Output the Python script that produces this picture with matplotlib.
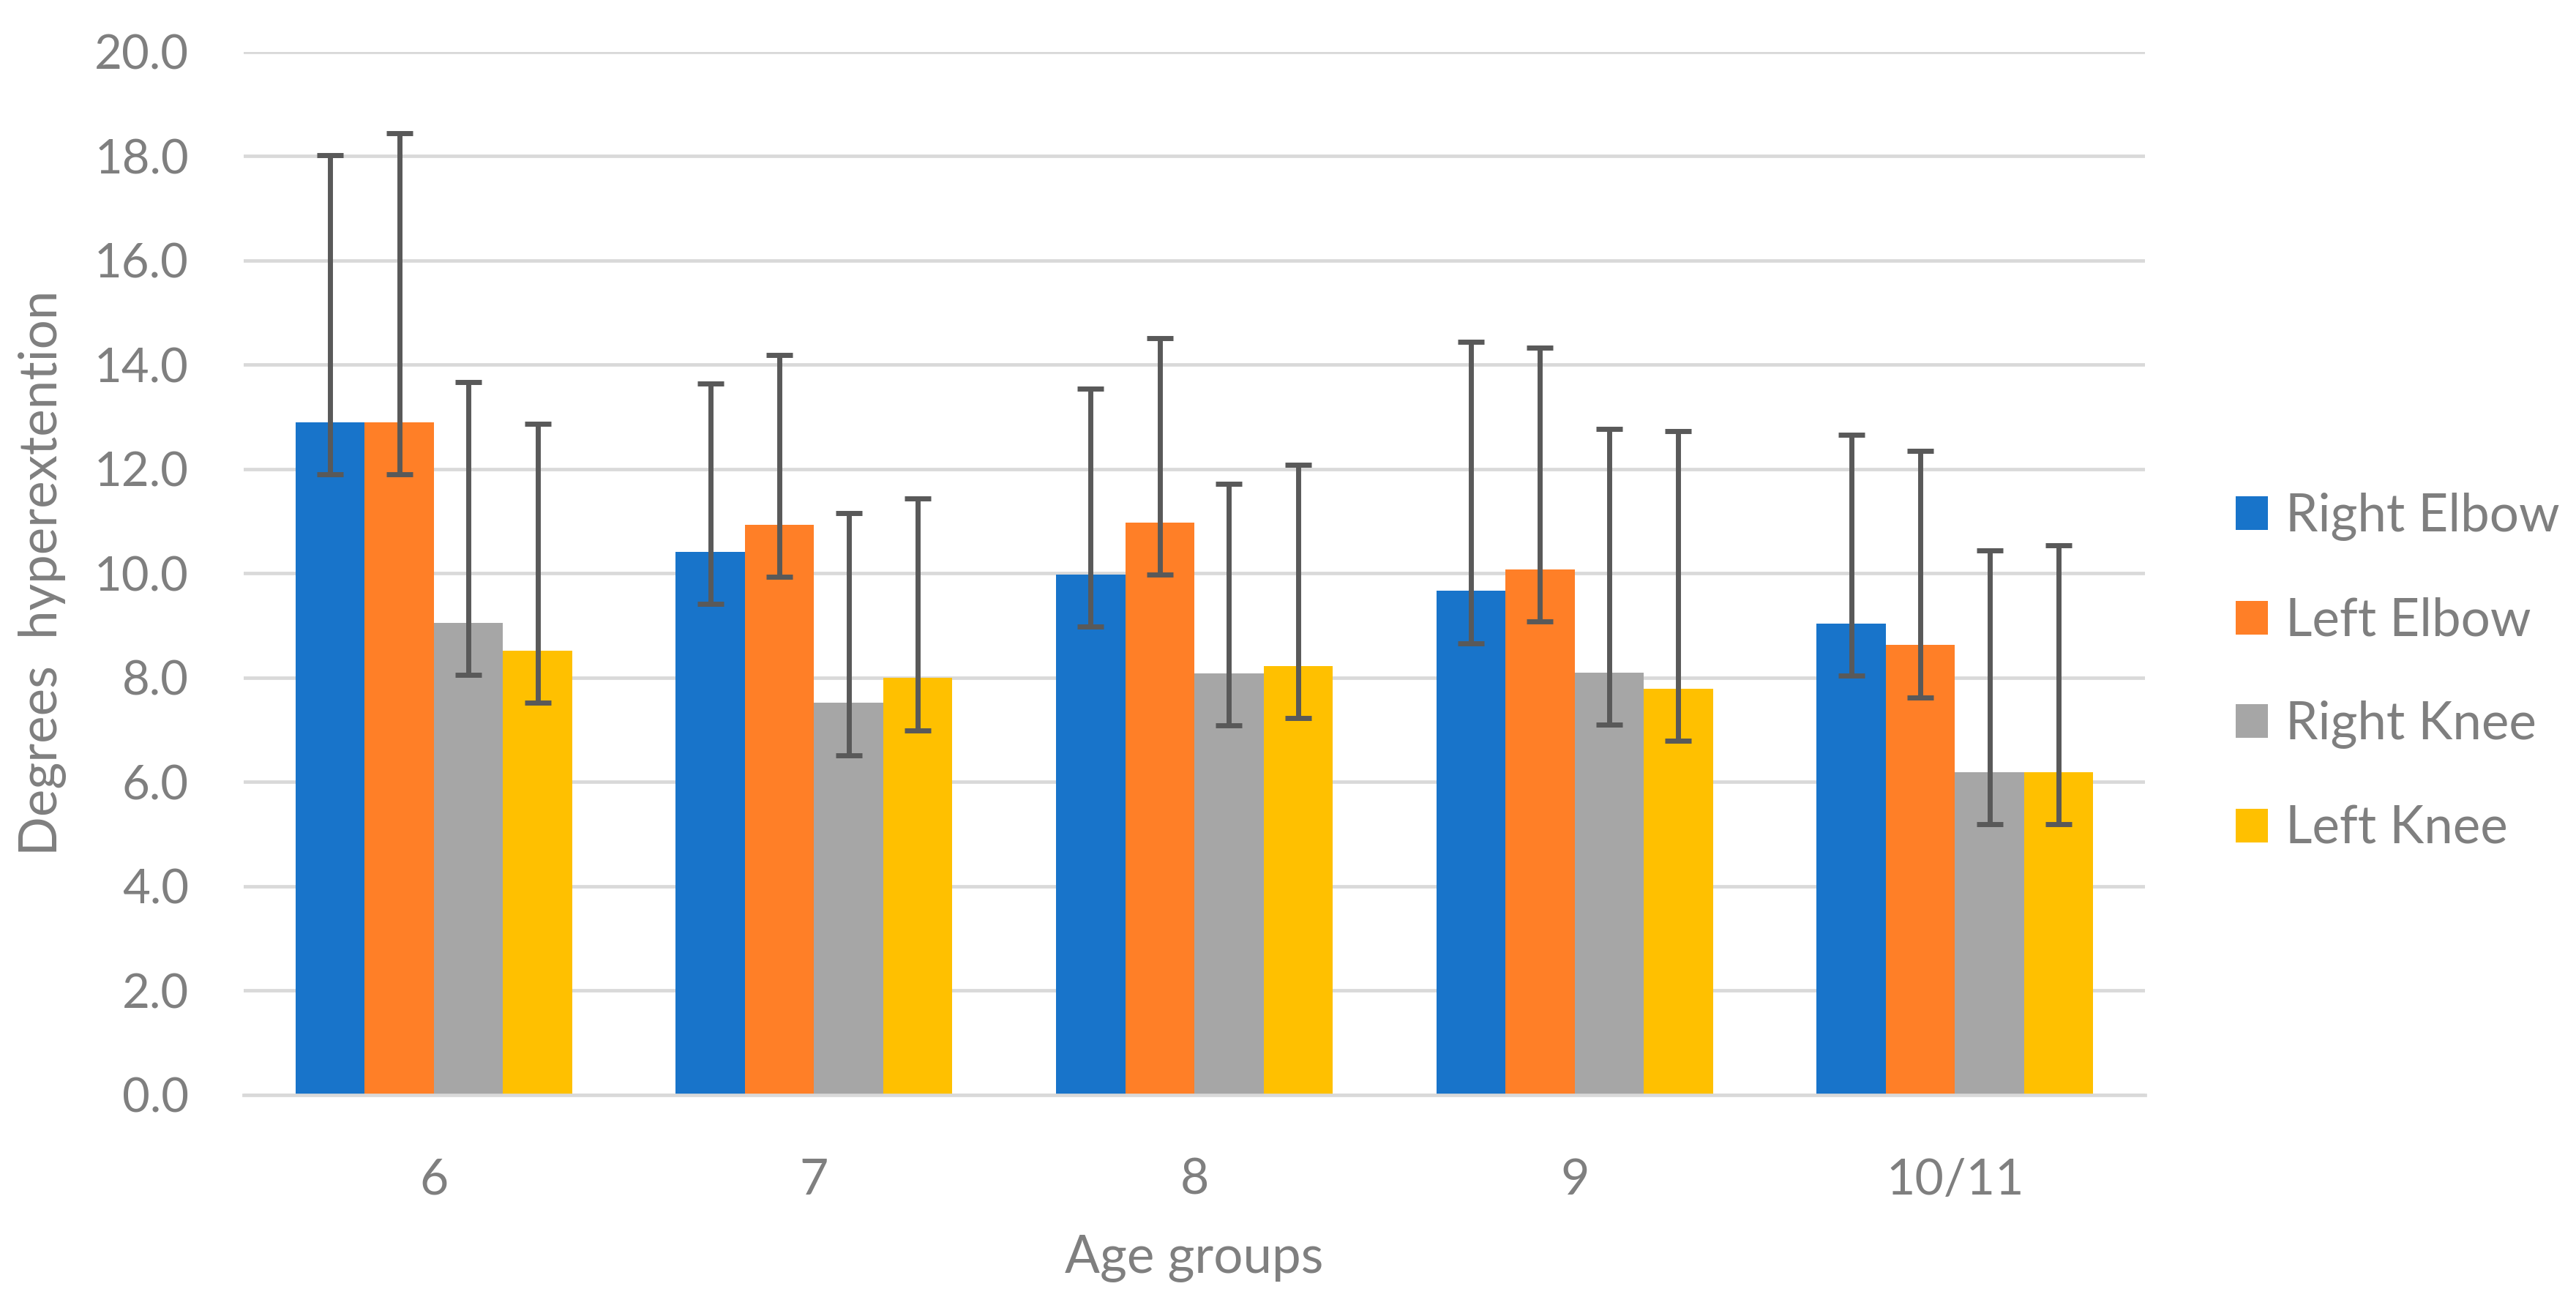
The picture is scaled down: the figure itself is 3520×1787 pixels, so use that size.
import matplotlib.pyplot as plt
import numpy as np
from matplotlib.patches import Patch

# valeurs
age_groups = ['6', '7', '8', '9', '10/11']
series = ['Right Elbow', 'Left Elbow', 'Right Knee', 'Left Knee']

right_elbow = [12.89, 10.41, 9.97, 9.66, 9.03]
left_elbow = [12.89, 10.93, 10.97, 10.07, 8.62]
right_knee = [9.05, 7.51, 8.08, 8.09, 6.19]
left_knee = [8.51, 7.99, 8.22, 7.78, 6.19]

err_up_right_elbow = [5.13, 3.23, 3.57, 4.78, 3.63]
err_up_left_elbow = [5.55, 3.26, 3.53, 4.26, 3.72]
err_up_right_knee = [4.61, 3.64, 3.63, 4.67, 4.25]
err_up_left_knee = [4.35, 3.44, 3.86, 4.94, 4.35]
err_down = [1.0, 1.0, 1.0, 1.0, 1.0]

colors = ['#1874CA', '#FF7F27', '#A6A6A6', '#FFC000']
text_color = '#7F7F7F'
grid_color = '#D9D9D9'

plt.rcParams['font.family'] = ['Lato', 'DejaVu Sans']

fig = plt.figure(figsize=(35.2, 17.87), dpi=100)
ax = fig.add_axes([0.0946, 0.1631, 0.7381, 0.7974])

values = [right_elbow, left_elbow, right_knee, left_knee]
errs = [err_up_right_elbow, err_up_left_elbow, err_up_right_knee, err_up_left_knee]

X = np.arange(len(age_groups))
w = 0.1819
for k in range(4):
    pos = X + (k - 1.5) * w
    ax.bar(pos, values[k], width=w, color=colors[k], zorder=2)
    ax.errorbar(pos, values[k], yerr=[err_down, errs[k]], fmt='none',
                ecolor='#595959', elinewidth=5, capsize=13, capthick=5, zorder=3)

ax.set_xlim(-0.5, 4.5)
ax.set_ylim(0, 20)
ax.set_yticks(np.arange(0, 21, 2))
ax.set_yticklabels(['%.1f' % v for v in np.arange(0, 21, 2)])
ax.set_xticks(X)
ax.set_xticklabels(age_groups)
ax.yaxis.grid(True, color=grid_color, lw=3.4)
ax.set_axisbelow(True)
for s in ['top', 'right', 'left']:
    ax.spines[s].set_visible(False)
ax.spines['bottom'].set_color(grid_color)
ax.spines['bottom'].set_linewidth(3.4)
ax.tick_params(axis='y', length=0, pad=54, labelsize=47, labelcolor=text_color)
ax.tick_params(axis='x', length=0, pad=62, labelsize=49, labelcolor=text_color)

ax.set_ylabel('Degrees  hyperextention', fontsize=51, color=text_color)
ax.yaxis.set_label_coords(-0.0931, 0.5)
ax.set_xlabel('Age groups', fontsize=51, color=text_color)
ax.xaxis.label.set_va('center')
ax.xaxis.set_label_coords(0.5, -0.157)

handles = [Patch(facecolor=c) for c in colors]
F = 51
leg = fig.legend(handles, series, loc='center left', bbox_to_anchor=(0.868, 0.4857),
                 frameon=False, fontsize=F, borderpad=0, borderaxespad=0,
                 handlelength=31.7 / F, handleheight=31.7 / F,
                 handletextpad=17 / F, labelspacing=1.08)
for t in leg.get_texts():
    t.set_color(text_color)

plt.savefig('out.png', dpi=100)
